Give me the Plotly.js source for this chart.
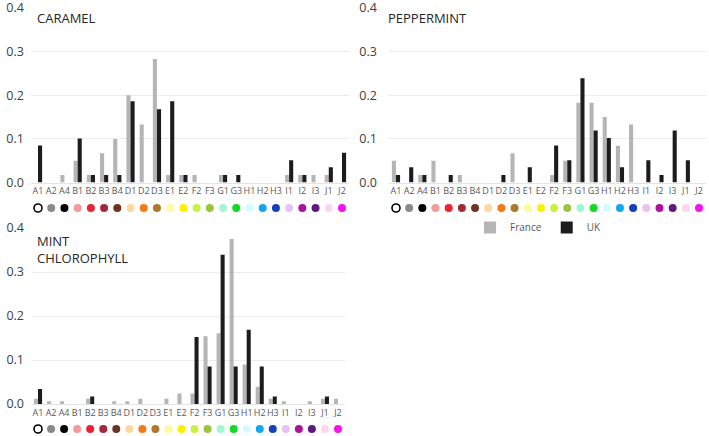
<!DOCTYPE html>
<html>
<head>
<meta charset="utf-8">
<script src="https://cdn.plot.ly/plotly-3.0.1.min.js"></script>
<style>html,body{margin:0;padding:0;background:#fff;}#chart{width:709px;height:436px;}</style>
</head>
<body>
<div id="chart"></div>
<script>
const categories = ["A1","A2","A4","B1","B2","B3","B4","D1","D2","D3","E1","E2","F2","F3","G1","G3","H1","H2","H3","I1","I2","I3","J1","J2"];
const dotColors = ["#ffffff","#8a8a8a","#000000","#f59a9a","#ec2230","#a2283a","#6e3422","#fdd8a0","#f37a14","#ae782a","#fdfb9e","#f8f200","#c9f23e","#9dc43e","#a0f8d0","#12d826","#d2fcfc","#12a8f0","#1240bf","#e8c2f2","#b0109e","#5e1a80","#fcd6ee","#f812f0"];

const caramelFrance = [0,0,0.017,0.05,0.017,0.067,0.1,0.2,0.133,0.283,0.017,0.017,0.017,0,0.017,0,0,0,0,0.017,0.017,0.017,0.017,0];
const caramelUK     = [0.085,0,0,0.101,0.017,0.017,0.017,0.186,0,0.168,0.186,0.017,0,0,0.017,0.017,0,0,0,0.051,0.017,0,0.035,0.068];

const peppermintFrance = [0.05,0,0.017,0.05,0,0.017,0,0,0,0.067,0,0,0.017,0.05,0.183,0.183,0.15,0.084,0.133,0,0,0,0,0];
const peppermintUK     = [0.017,0.035,0.017,0,0.017,0,0,0,0.017,0,0.035,0,0.085,0.051,0.239,0.119,0.102,0.035,0,0.051,0.017,0.119,0.051,0];

const mintFrance = [0.012,0.006,0.006,0,0.012,0,0.006,0.006,0.012,0,0.012,0.024,0.024,0.154,0.161,0.375,0.09,0.039,0.012,0.006,0,0.006,0.012,0.012];
const mintUK     = [0.034,0,0,0,0.017,0,0,0,0,0,0,0,0.152,0.085,0.339,0.085,0.169,0.085,0.017,0,0,0,0.017,0];

const yTicks = [0,0.1,0.2,0.3,0.4];
const yTickText = ["0.0","0.1","0.2","0.3","0.4"];

const W = 709, H = 436;
const FR = "#b5b5b5", UKc = "#1c1c1c";
const px = v => v / W;
const py = v => 1 - v / H;

const panels = [
  {name:"CARAMEL", fr:caramelFrance, uk:caramelUK, x:[31.4,348.6], y:[182.5,8], dotY:208},
  {name:"PEPPERMINT", fr:peppermintFrance, uk:peppermintUK, x:[389.4,705.6], y:[182.5,8], dotY:208},
  {name:"MINT CHLOROPHYLL", fr:mintFrance, uk:mintUK, x:[31.5,344.5], y:[404,228], dotY:429}
];

const traces = [];
const layout = {
  width: W, height: H,
  margin: {l:0, r:0, t:0, b:0},
  paper_bgcolor: "#fff", plot_bgcolor: "rgba(0,0,0,0)",
  barmode: "group", bargap: 0.38, bargroupgap: 0,
  font: {family: "Open Sans, Liberation Sans, sans-serif", color: "#595959"},
  showlegend: true,
  legend: {orientation: "h", x: px(470), y: py(213), xanchor: "left", yanchor: "top",
           font: {size: 10, color: "#595959"}, itemwidth: 30,
           traceorder: "normal", bgcolor: "rgba(0,0,0,0)"},
  annotations: []
};

panels.forEach((p, i) => {
  const n = i + 1;
  const xa = n === 1 ? "x" : "x" + n;
  const ya = n === 1 ? "y" : "y" + n;
  const dya = "y" + (n + 3);
  traces.push({type:"bar", name:"France", x:categories, y:p.fr, xaxis:xa, yaxis:ya,
               marker:{color:FR}, showlegend: n === 2, legendgroup:"fr", hoverinfo:"x+y"});
  traces.push({type:"bar", name:"UK", x:categories, y:p.uk, xaxis:xa, yaxis:ya,
               marker:{color:UKc}, showlegend: n === 2, legendgroup:"uk", hoverinfo:"x+y"});
  traces.push({type:"scatter", mode:"markers", x:categories, y:categories.map(() => 0.5),
               xaxis:xa, yaxis:dya, showlegend:false, hoverinfo:"skip",
               marker:{size:8, color:dotColors,
                       line:{color:dotColors.map((c, k) => k === 0 ? "#000" : c), width:dotColors.map((c,k)=> k===0?1.6:0)}}});
  const xk = n === 1 ? "xaxis" : "xaxis" + n;
  const yk = n === 1 ? "yaxis" : "yaxis" + n;
  layout[xk] = {domain:[px(p.x[0]), px(p.x[1])], anchor: ya, type:"category",
                range:[-0.5, 23.5], showgrid:false, zeroline:false, showline:true, linecolor:"#e4e4e4",
                ticks:"", tickfont:{size:9, color:"#595959"}, fixedrange:true, tickangle:0};
  layout[yk] = {domain:[py(p.y[0]), py(p.y[1])], anchor: xa, range:[0, 0.4],
                tickvals:yTicks, ticktext:yTickText, showgrid:true, gridcolor:"#ececec", gridwidth:1,
                zeroline:false, showline:false, tickfont:{size:12.5, color:"#404040"},
                ticklabeloverflow:"allow",
                ticks:"outside", ticklen: n === 2 ? 9 : 4, tickcolor:"rgba(0,0,0,0)", fixedrange:true};
  layout["yaxis" + (n + 3)] = {domain:[py(p.dotY + 6), py(p.dotY - 6)], anchor: xa, range:[0,1],
                visible:false, fixedrange:true};
});

layout.annotations.push({text:"CARAMEL", x:px(35), y:py(18), xref:"paper", yref:"paper",
  xanchor:"left", yanchor:"middle", showarrow:false, font:{size:13, color:"#262626"}});
layout.annotations.push({text:"PEPPERMINT", x:px(386), y:py(18), xref:"paper", yref:"paper",
  xanchor:"left", yanchor:"middle", showarrow:false, font:{size:13, color:"#262626"}});
layout.annotations.push({text:"MINT<br>CHLOROPHYLL", x:px(35), y:py(230), xref:"paper", yref:"paper",
  xanchor:"left", yanchor:"top", align:"left", showarrow:false, font:{size:13, color:"#262626"}});

Plotly.newPlot("chart", traces, layout, {displayModeBar:false, staticPlot:true});
</script>
</body>
</html>
